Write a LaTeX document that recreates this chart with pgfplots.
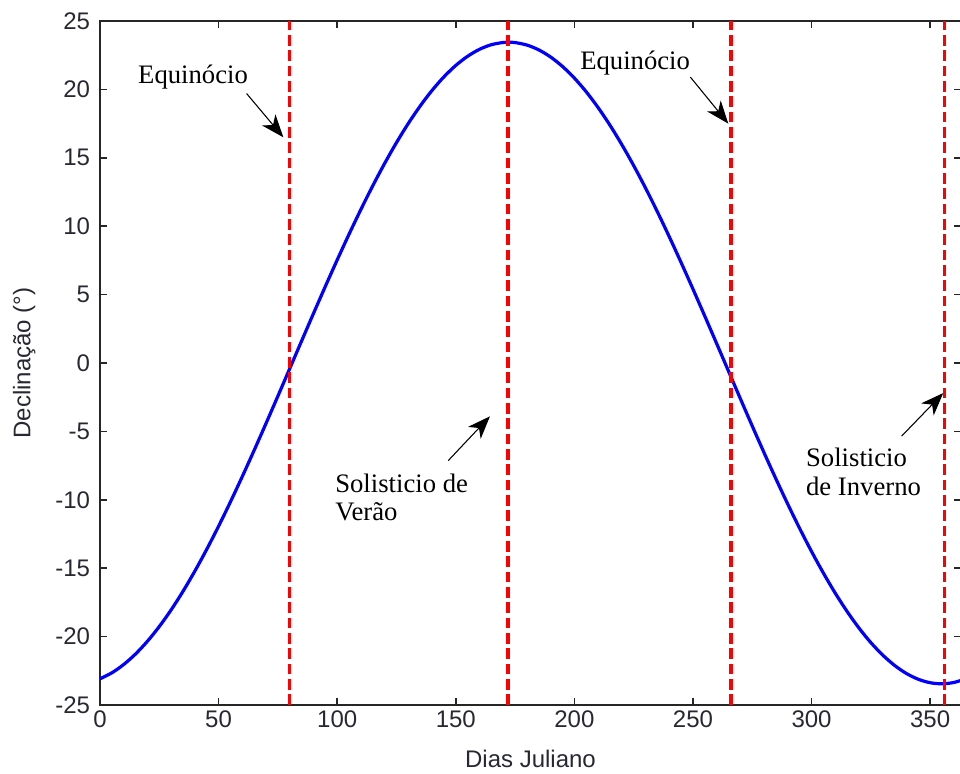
\documentclass[border=0pt]{standalone}
\usepackage{pgfplots}
\pgfplotsset{compat=1.18}
\usepackage{fontspec}
\setmainfont{Liberation Serif}
\setsansfont{Liberation Sans}
\usetikzlibrary{arrows.meta}
\definecolor{tickgray}{RGB}{40,40,50}
\begin{document}
\begin{tikzpicture}
\begin{axis}[
  name=ax,
  scale only axis,
  width=645.75pt, height=513pt,
  xmin=0, xmax=363, ymin=-25, ymax=25,
  xtick={0,50,...,350}, ytick={-25,-20,...,25},
  tick align=inside,
  major tick length=5pt,
  axis line style={line width=1.1pt, black!85},
  every tick/.style={line width=1.1pt, black!85},
  /pgf/number format/assume math mode=true,
  ticklabel style={font=\sffamily\fontsize{18}{18}\selectfont, text=tickgray},
  xticklabel style={yshift=-1pt},
  yticklabel style={xshift=-4pt},
  xlabel={Dias Juliano},
  ylabel={Declinação (°)},
  label style={font=\sffamily\fontsize{18}{18}\selectfont, text=tickgray},
  xlabel style={yshift=-10pt},
  ylabel style={yshift=8pt},
  clip=true,
]
\addplot[blue, line width=2.4pt, smooth] coordinates {
(0,-23.086)(5,-22.647)(10,-22.039)(15,-21.269)(20,-20.340)(25,-19.263)(30,-18.043)(35,-16.688)
(40,-15.209)(45,-13.619)(50,-11.928)(55,-10.148)(60,-8.293)(65,-6.377)(70,-4.414)(75,-2.418)
(80,-0.404)(85,1.613)(90,3.619)(95,5.597)(100,7.534)(105,9.415)(110,11.227)(115,12.956)
(120,14.588)(125,16.112)(130,17.516)(135,18.788)(140,19.929)(145,20.918)(150,21.752)(155,22.424)
(160,22.931)(165,23.268)(170,23.432)(172,23.450)(175,23.424)(180,23.241)(185,22.888)(190,22.364)
(195,21.674)(200,20.825)(205,19.822)(210,18.670)(215,17.382)(220,15.963)(225,14.430)(230,12.788)
(235,11.051)(240,9.230)(245,7.342)(250,5.401)(255,3.419)(260,1.412)(265,-0.605)(270,-2.618)
(275,-4.612)(280,-6.572)(285,-8.481)(290,-10.330)(295,-12.101)(300,-13.784)(305,-15.362)(310,-16.829)
(315,-18.170)(320,-19.379)(325,-20.442)(330,-21.352)(335,-22.108)(340,-22.698)(345,-23.121)(350,-23.372)
(355,-23.450)(360,-23.354)(365,-23.086)
};
\addplot[red, line width=2.4pt, dash pattern=on 8pt off 3.5pt] coordinates {(80,-25)(80,25)};
\addplot[red, line width=2.4pt, dash pattern=on 8pt off 3.5pt] coordinates {(172,-25)(172,25)};
\addplot[red, line width=2.4pt, dash pattern=on 8pt off 3.5pt] coordinates {(266,-25)(266,25)};
\addplot[red, line width=2.4pt, dash pattern=on 8pt off 3.5pt] coordinates {(356,-25)(356,25)};

\node[anchor=west, inner sep=0pt, font=\fontsize{20}{21.5}\selectfont] at (axis cs:16.0,20.9) {Equinócio};
\node[anchor=west, inner sep=0pt, font=\fontsize{20}{21.5}\selectfont] at (axis cs:202.4,21.9) {Equinócio};
\node[anchor=west, inner sep=0pt, align=left, font=\fontsize{20}{21.5}\selectfont] at (axis cs:99.1,-9.84) {Solisticio de\\Verão};
\node[anchor=west, inner sep=0pt, align=left, font=\fontsize{20}{21.5}\selectfont] at (axis cs:297.6,-7.97) {Solisticio\\de Inverno};

\draw[-{Stealth[length=17pt,width=13pt,inset=5pt]}, line width=0.8pt] (axis cs:61.8,19.7) -- (axis cs:77.3,16.5);
\draw[-{Stealth[length=17pt,width=13pt,inset=5pt]}, line width=0.8pt] (axis cs:248.9,20.9) -- (axis cs:264.9,17.5);
\draw[-{Stealth[length=17pt,width=13pt,inset=5pt]}, line width=0.8pt] (axis cs:146.8,-7.14) -- (axis cs:164.4,-3.9);
\draw[-{Stealth[length=17pt,width=13pt,inset=5pt]}, line width=0.8pt] (axis cs:338.0,-5.34) -- (axis cs:355.5,-2.2);
\end{axis}
\pgfresetboundingbox
\path (ax.south west) ++(-75pt,-51.75pt) rectangle ++(720pt,580.5pt);
\end{tikzpicture}
\end{document}
